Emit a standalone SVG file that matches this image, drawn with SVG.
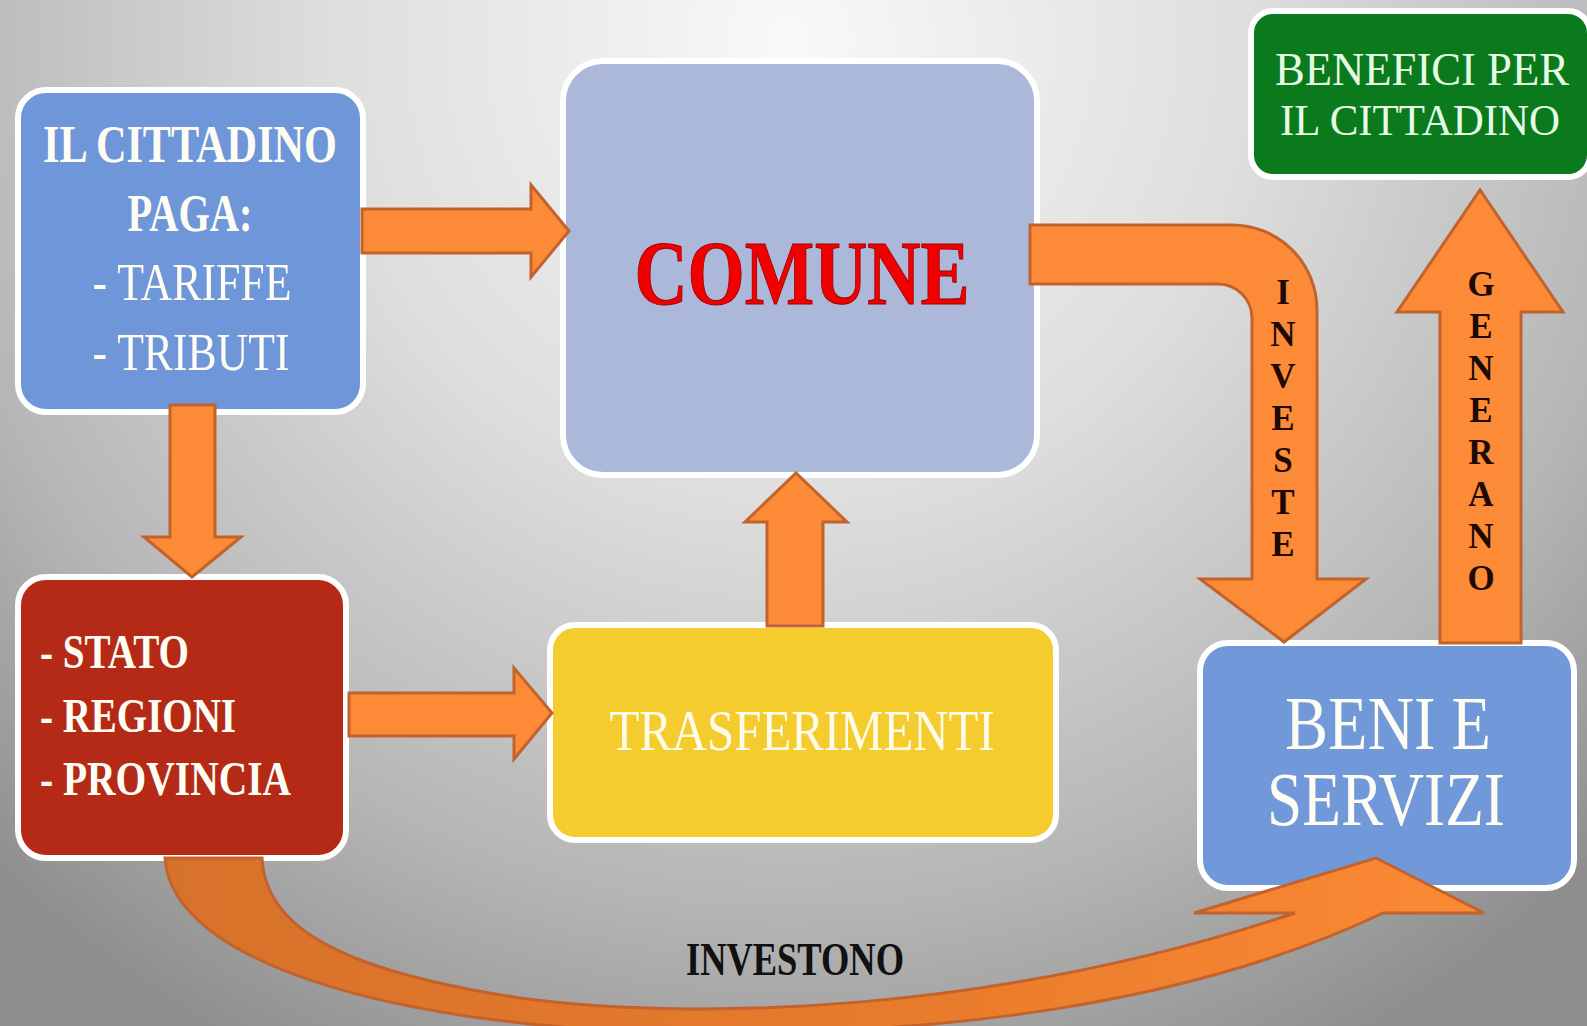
<svg xmlns="http://www.w3.org/2000/svg" width="1587" height="1026" viewBox="0 0 1587 1026">
<defs>
<radialGradient id="bg" gradientUnits="userSpaceOnUse" cx="790" cy="40" r="1150">
<stop offset="0" stop-color="#f9f9f9"/>
<stop offset="0.4" stop-color="#dedede"/>
<stop offset="0.75" stop-color="#b6b6b6"/>
<stop offset="1" stop-color="#8e8e8e"/>
</radialGradient>
<linearGradient id="curve" gradientUnits="userSpaceOnUse" x1="160" y1="0" x2="1480" y2="0">
<stop offset="0" stop-color="#d7722a"/>
<stop offset="0.6" stop-color="#e97c2c"/>
<stop offset="1" stop-color="#fc8935"/>
</linearGradient>
<style>
.box{stroke:#ffffff;stroke-width:6}
.arr{fill:#fd8a37;stroke:#c2622c;stroke-width:3;stroke-linejoin:miter}
.t{font-family:"Liberation Serif","Times New Roman",serif}
.b{font-weight:bold}
.w{fill:#fdfdf3}
.v{font-family:"Liberation Serif",serif;font-weight:bold;font-size:35px;fill:#1e0a05;text-anchor:middle}
</style>
</defs>
<rect x="0" y="0" width="1587" height="1026" fill="url(#bg)"/>

<g id="cittadino">
<rect class="box" x="18" y="90" width="345" height="322" rx="28" fill="#6f96d8"/>
<text class="t b w" x="190" y="162" font-size="53" text-anchor="middle" textLength="294" lengthAdjust="spacingAndGlyphs">IL CITTADINO</text>
<text class="t b w" x="190" y="231" font-size="53" text-anchor="middle" textLength="125" lengthAdjust="spacingAndGlyphs">PAGA:</text>
<text class="t w" x="192" y="300" font-size="53" text-anchor="middle" textLength="199" lengthAdjust="spacingAndGlyphs">- TARIFFE</text>
<text class="t w" x="191" y="370" font-size="53" text-anchor="middle" textLength="197" lengthAdjust="spacingAndGlyphs">- TRIBUTI</text>
</g>

<g id="comune">
<rect class="box" x="563" y="61" width="474" height="414" rx="40" fill="#abb8d9"/>
<text class="t b" x="802" y="304" font-size="92" text-anchor="middle" textLength="335" lengthAdjust="spacingAndGlyphs" fill="#f20000" stroke="#a00000" stroke-width="1">COMUNE</text>
</g>

<g id="benefici">
<rect class="box" x="1251" y="11" width="339" height="166" rx="22" fill="#0a7a1c"/>
<text class="t" x="1422" y="85" font-size="46" text-anchor="middle" textLength="294" lengthAdjust="spacingAndGlyphs" fill="#e6fbe6">BENEFICI PER</text>
<text class="t" x="1420" y="135" font-size="45" text-anchor="middle" textLength="280" lengthAdjust="spacingAndGlyphs" fill="#e6fbe6">IL CITTADINO</text>
</g>

<g id="enti">
<rect class="box" x="18" y="577" width="328" height="281" rx="28" fill="#b42a16"/>
<text class="t b w" x="40" y="668" font-size="49" textLength="149" lengthAdjust="spacingAndGlyphs">- STATO</text>
<text class="t b w" x="40" y="732" font-size="49" textLength="196" lengthAdjust="spacingAndGlyphs">- REGIONI</text>
<text class="t b w" x="40" y="795" font-size="49" textLength="251" lengthAdjust="spacingAndGlyphs">- PROVINCIA</text>
</g>

<g id="trasferimenti">
<rect class="box" x="550" y="625" width="506" height="215" rx="25" fill="#f4cc2e"/>
<text class="t" x="802" y="750" font-size="56" text-anchor="middle" textLength="385" lengthAdjust="spacingAndGlyphs" fill="#fffbea">TRASFERIMENTI</text>
</g>

<g id="beni">
<rect class="box" x="1200" y="643" width="374" height="245" rx="28" fill="#7198d9"/>
<text class="t w" x="1388" y="749" font-size="76" text-anchor="middle" textLength="206" lengthAdjust="spacingAndGlyphs">BENI E</text>
<text class="t w" x="1386" y="825" font-size="76" text-anchor="middle" textLength="238" lengthAdjust="spacingAndGlyphs">SERVIZI</text>
</g>

<g id="connectors">
<path class="arr" d="M 362 209 L 531 209 L 531 185 L 569 231 L 531 277 L 531 253 L 362 253 Z"/>
<path class="arr" d="M 170 405 L 215 405 L 215 537 L 241 537 L 192 577 L 144 537 L 170 537 Z"/>
<path class="arr" d="M 349 693 L 514 693 L 514 668 L 552 713 L 514 759 L 514 736 L 349 736 Z"/>
<path class="arr" d="M 767 626 L 767 522 L 745 522 L 796 473 L 847 522 L 823 522 L 823 626 Z"/>
<path class="arr" d="M 1030 225 L 1232 225 A 85 85 0 0 1 1317 310 L 1317 579 L 1366 579 L 1284 642 L 1200 579 L 1252 579 L 1252 318 A 34 34 0 0 0 1218 284 L 1030 284 Z"/>
<path class="arr" d="M 1440 643 L 1440 312 L 1397 312 L 1480 190 L 1563 312 L 1521 312 L 1521 643 Z"/>
<path d="M 165 858 L 262 858 C 265 925 335 970 520 998 C 700 1022 1000 1012 1295 913 L 1194 913 L 1376 858 L 1484 913 L 1383 913 C 1200 1000 950 1040 650 1032 C 400 1024 172 965 165 858 Z" fill="url(#curve)" stroke="#c2622c" stroke-width="3"/>
<text class="v">
<tspan x="1283" y="304">I</tspan><tspan x="1283" y="346">N</tspan><tspan x="1283" y="388">V</tspan><tspan x="1283" y="430">E</tspan><tspan x="1283" y="472">S</tspan><tspan x="1283" y="514">T</tspan><tspan x="1283" y="556">E</tspan>
</text>
<text class="v">
<tspan x="1481" y="296">G</tspan><tspan x="1481" y="338">E</tspan><tspan x="1481" y="380">N</tspan><tspan x="1481" y="422">E</tspan><tspan x="1481" y="464">R</tspan><tspan x="1481" y="506">A</tspan><tspan x="1481" y="548">N</tspan><tspan x="1481" y="590">O</tspan>
</text>
<text class="t b" x="795" y="975" font-size="47" text-anchor="middle" textLength="218" lengthAdjust="spacingAndGlyphs" fill="#111111">INVESTONO</text>
</g>
</svg>
